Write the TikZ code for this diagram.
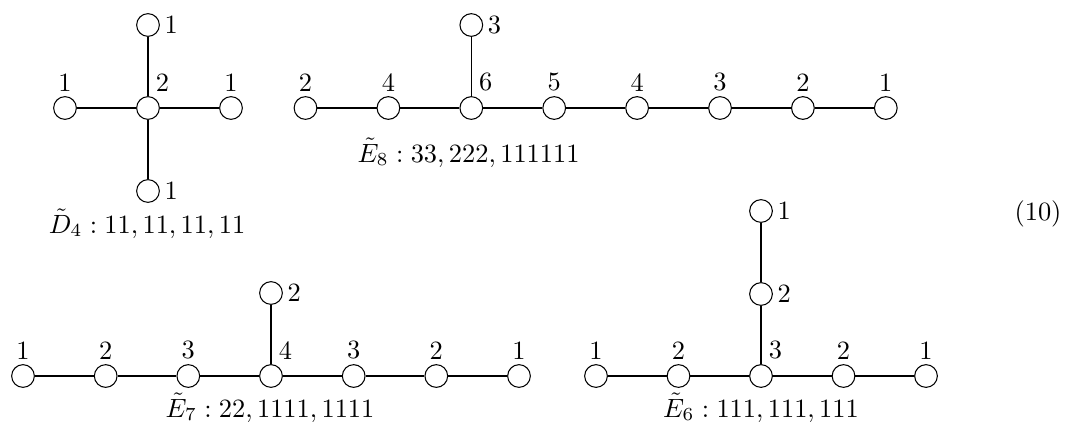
\documentclass[tikz,border=0pt]{standalone}
\begin{document}
\begin{tikzpicture}[x=0.3788pt,y=-0.3788pt,
  v/.style={circle,draw,line width=0.4pt,minimum size=8.6pt,inner sep=0pt},
  every label/.style={inner sep=1.6pt},
  la/.style={label=above:#1},
  lr/.style={label=right:#1},
  lc/.style={label={[anchor=south west,xshift=1.2pt]north:#1}},
  conn/.style={line width=0.4pt},
  captxt/.style={anchor=base}]
\useasboundingbox (0,0) rectangle (1066,421);
% D4
\node[v,la=1] (d1) at (65,108) {};
\node[v,lc=2] (d0) at (148,108) {};
\node[v,la=1] (d2) at (231,108) {};
\node[v,lr=1] (d3) at (148,25) {};
\node[v,lr=1] (d4) at (148,191) {};
\draw[conn] (d1) -- (d0) -- (d2);
\draw[conn] (d3) -- (d0) -- (d4);
\node[captxt] (dc) at (147,233) {$\tilde D_4 : 11, 11, 11, 11$};
% E8
\node[v,la=2] (e1) at (305.5,108) {};
\node[v,la=4] (e2) at (388.4,108) {};
\node[v,lc=6] (e3) at (471.3,108) {};
\node[v,la=5] (e4) at (554.2,108) {};
\node[v,la=4] (e5) at (637.1,108) {};
\node[v,la=3] (e6) at (720,108) {};
\node[v,la=2] (e7) at (802.9,108) {};
\node[v,la=1] (e8) at (885.8,108) {};
\node[v,lr=3] (et) at (471.3,25) {};
\draw[conn] (e1) -- (e2) -- (e3) -- (e4) -- (e5) -- (e6) -- (e7) -- (e8);
\draw[conn] (e3) -- (et);
\node[captxt] (ec) at (468.5,162) {$\tilde E_8 : 33, 222, 111111$};
% E7
\node[v,la=1] (f1) at (23,376) {};
\node[v,la=2] (f2) at (105.7,376) {};
\node[v,la=3] (f3) at (188.3,376) {};
\node[v,lc=4] (f4) at (271,376) {};
\node[v,la=3] (f5) at (353.7,376) {};
\node[v,la=2] (f6) at (436.3,376) {};
\node[v,la=1] (f7) at (519,376) {};
\node[v,lr=2] (ft) at (271,293) {};
\draw[conn] (f1) -- (f2) -- (f3) -- (f4) -- (f5) -- (f6) -- (f7);
\draw[conn] (f4) -- (ft);
\node[captxt] (fc) at (270,417) {$\tilde E_7 : 22, 1111, 1111$};
% E6
\node[v,la=1] (g1) at (596,376) {};
\node[v,la=2] (g2) at (678.5,376) {};
\node[v,lc=3] (g3) at (761,376) {};
\node[v,la=2] (g4) at (843.5,376) {};
\node[v,la=1] (g5) at (926,376) {};
\node[v,lr=2] (gt1) at (761,294) {};
\node[v,lr=1] (gt2) at (761,211) {};
\draw[conn] (g1) -- (g2) -- (g3) -- (g4) -- (g5);
\draw[conn] (g3) -- (gt1) -- (gt2);
\node[captxt] (gc) at (761,417) {$\tilde E_6 : 111, 111, 111$};
% equation number
\node[anchor=base east,inner sep=0pt] (eq) at (1062,220) {(10)};
\end{tikzpicture}
\end{document}
